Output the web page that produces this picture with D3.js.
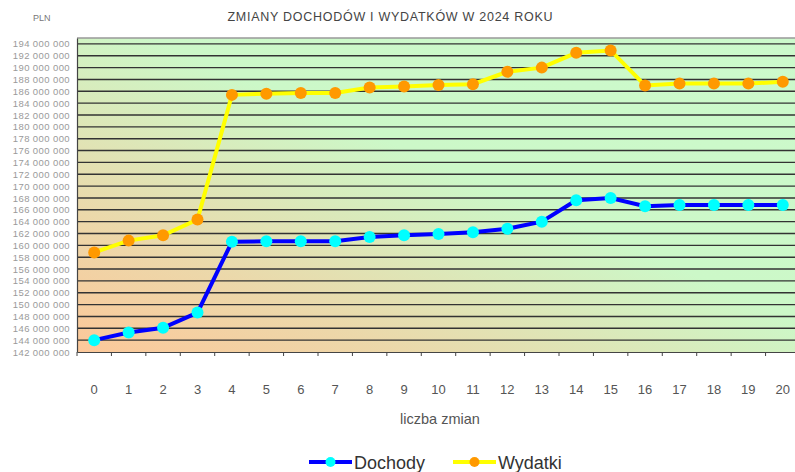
<!DOCTYPE html>
<meta charset="utf-8">
<style>
body { margin: 0; background: #fff; }
text { font-family: "Liberation Sans", Arial, sans-serif; }
.grid line { stroke: #333; stroke-width: 1.4px; }
.yaxis text { font-size: 9.5px; fill: #9a9a9a; letter-spacing: 0.4px; }
.xaxis text { font-size: 13px; fill: #555; }
</style>
<svg width="795" height="472"></svg>
<script src="https://d3js.org/d3.v7.min.js"></script>
<script>

var changes = d3.range(0, 21);
var dochody = [144.0, 145.3, 146.1, 148.65, 160.6, 160.7, 160.7, 160.7, 161.4, 161.7, 161.9,
               162.2, 162.8, 164.0, 167.6, 168.0, 166.6, 166.8, 166.8, 166.8, 166.8];
var wydatki = [158.8, 160.8, 161.7, 164.35, 185.4, 185.6, 185.7, 185.7, 186.65, 186.8, 187.05,
               187.2, 189.3, 190.0, 192.5, 192.9, 187.0, 187.3, 187.3, 187.3, 187.6];
var yTicks = d3.range(142, 195, 2);

var svg = d3.select("svg");

var margin = {left: 77, top: 38, bottom: 352, right: 800};

var x = d3.scaleBand()
    .domain(changes)
    .range([margin.left, margin.right]);

var y = d3.scaleLinear()
    .domain([142e6, 195e6])
    .range([margin.bottom, margin.top]);

var pl = d3.formatLocale({decimal: ",", thousands: " ", grouping: [3], currency: ["", ""]});
var fmt = pl.format(",d");

// background gradient
var defs = svg.append("defs");
var grad = defs.append("linearGradient")
    .attr("id", "bg")
    .attr("x1", 0).attr("y1", 1)
    .attr("x2", 1).attr("y2", 0);
grad.append("stop").attr("offset", 0).attr("stop-color", "#fcc89a");
grad.append("stop").attr("offset", 0.22).attr("stop-color", "#ecd8aa");
grad.append("stop").attr("offset", 0.55).attr("stop-color", "#ccf8c8");
grad.append("stop").attr("offset", 1).attr("stop-color", "#ccfacc");

svg.append("rect")
    .attr("x", margin.left)
    .attr("y", margin.top)
    .attr("width", margin.right - margin.left)
    .attr("height", margin.bottom - margin.top)
    .attr("fill", "url(#bg)");

svg.append("line")
    .attr("x1", margin.left).attr("x2", margin.right)
    .attr("y1", margin.top).attr("y2", margin.top)
    .attr("stroke", "#999").attr("stroke-width", 1.5);

// gridlines
svg.append("g")
    .attr("class", "grid")
  .selectAll("line")
  .data(yTicks.slice(1))
  .enter().append("line")
    .attr("x1", margin.left)
    .attr("x2", margin.right)
    .attr("y1", function(d) { return y(d * 1e6); })
    .attr("y2", function(d) { return y(d * 1e6); });

// y axis
var yAxis = svg.append("g")
    .attr("class", "yaxis")
    .attr("transform", "translate(" + margin.left + ",0)")
    .call(d3.axisLeft(y)
        .tickValues(yTicks.map(function(d) { return d * 1e6; }))
        .tickFormat(fmt)
        .tickSize(0)
        .tickPadding(7));
yAxis.select(".domain").attr("stroke", "#444").attr("stroke-width", 1.2);

// x axis
var bw = x.bandwidth();
var xAxis = svg.append("g")
    .attr("class", "xaxis")
    .attr("transform", "translate(0," + margin.bottom + ")")
    .call(d3.axisBottom(x).tickSize(4).tickSizeOuter(0).tickPadding(29));
xAxis.select(".domain").attr("stroke", "#444").attr("stroke-width", 1.2);
xAxis.selectAll(".tick line")
    .attr("stroke", "#444")
    .attr("x1", -bw / 2).attr("x2", -bw / 2);

// lines
var series = [
  {name: "Dochody", values: dochody, line: "#0000ff", marker: "#00ffff"},
  {name: "Wydatki", values: wydatki, line: "#ffff00", marker: "#ff9900"}
];

var line = d3.line()
    .x(function(d, i) { return x(i) + bw / 2; })
    .y(function(d) { return y(d * 1e6); });

series.forEach(function(s) {
  svg.append("path")
      .datum(s.values)
      .attr("fill", "none")
      .attr("stroke", s.line)
      .attr("stroke-width", 4)
      .attr("d", line);
  svg.append("g")
    .selectAll("circle")
    .data(s.values)
    .enter().append("circle")
      .attr("cx", function(d, i) { return x(i) + bw / 2; })
      .attr("cy", function(d) { return y(d * 1e6); })
      .attr("r", 6)
      .attr("fill", s.marker);
});

// titles
svg.append("text")
    .attr("x", 390).attr("y", 21)
    .attr("text-anchor", "middle")
    .attr("font-size", "12.5px")
    .attr("textLength", 325)
    .attr("fill", "#444")
    .text("ZMIANY DOCHODÓW I WYDATKÓW W 2024 ROKU");

svg.append("text")
    .attr("x", 33).attr("y", 21)
    .attr("font-size", "9px")
    .attr("fill", "#777")
    .text("PLN");

svg.append("text")
    .attr("x", 440).attr("y", 424)
    .attr("text-anchor", "middle")
    .attr("font-size", "14.5px")
    .attr("fill", "#555")
    .text("liczba zmian");

// legend
var legendX = [309, 453];
var legend = svg.selectAll(".legend")
    .data(series)
    .enter().append("g")
    .attr("class", "legend")
    .attr("transform", function(d, i) { return "translate(" + legendX[i] + ",462)"; });
legend.append("line")
    .attr("x1", 0).attr("x2", 43)
    .attr("stroke", function(d) { return d.line; })
    .attr("stroke-width", 4);
legend.append("circle")
    .attr("cx", 21.5).attr("r", 5)
    .attr("fill", function(d) { return d.marker; });
legend.append("text")
    .attr("x", 45).attr("y", 7)
    .attr("font-size", "18px")
    .attr("fill", "#333")
    .text(function(d) { return d.name; });

</script>
